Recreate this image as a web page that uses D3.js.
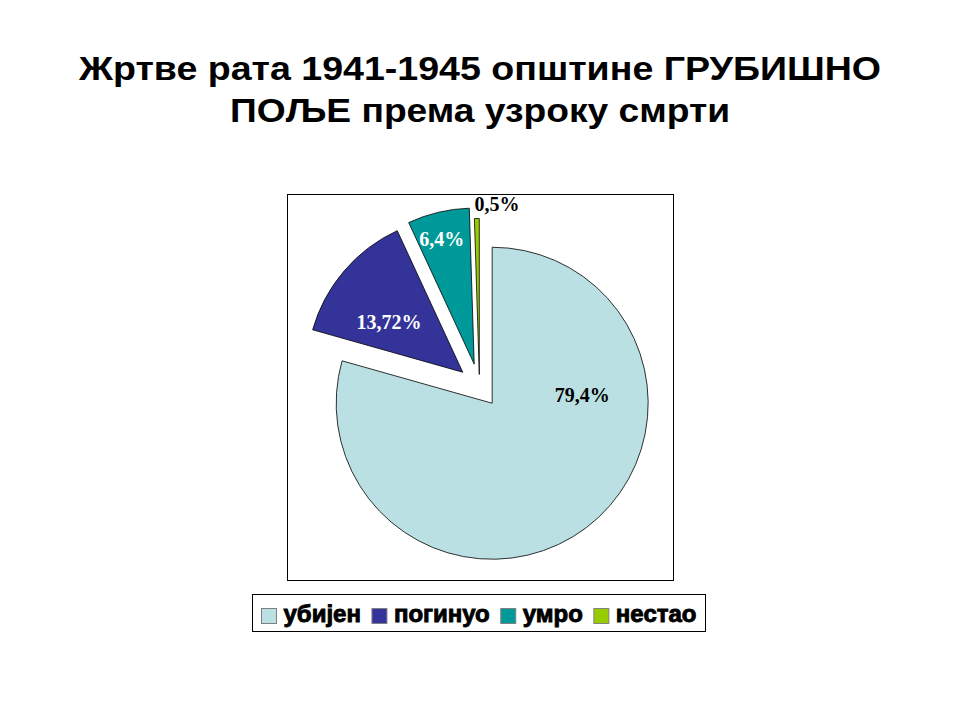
<!DOCTYPE html>
<html>
<head>
<meta charset="utf-8">
<script src="https://cdn.jsdelivr.net/npm/d3@7"></script>
<style>
  body { margin: 0; background: #fff; }
  svg { display: block; }
</style>
</head>
<body>
<svg id="chart" width="960" height="720"></svg>
<script>
// Жртве рата 1941-1945 по узроку смрти -- pie chart

var titleLines = ["Жртве рата 1941-1945 општине ГРУБИШНО", "ПОЉЕ према узроку смрти"];
var categories = ["убијен", "погинуо", "умро", "нестао"];
var values = [79.4, 13.72, 6.4, 0.5];
var valueLabels = ["79,4%", "13,72%", "6,4%", "0,5%"];
var colors = ["#bbe0e3", "#333399", "#009999", "#99cc00"];

///////////////////////////////////////////////////////////////////////////////
// layout

var svg = d3.select("#chart");
var cx = 479.5, cy = 386.5, radius = 156;
var explode = [21, 22, 23, 12];          // how far each slice is pulled out
var labelSpots = [[84.8, 0.58], [304, 0.57], [345.5, 0.83], [5.9, 1.1]];  // deg, fraction of radius
var labelFill = ["#000", "#fff", "#fff", "#000"];

var rad = function (deg) { return deg * Math.PI / 180; };

// Title
svg.append("g").selectAll("text")
  .data(titleLines)
  .enter().append("text")
  .attr("x", 480)
  .attr("y", function (d, i) { return 80 + i * 42; })
  .attr("text-anchor", "middle")
  .attr("textLength", function (d, i) { return i === 0 ? 802 : 500; })
  .attr("lengthAdjust", "spacingAndGlyphs")
  .style("font-family", "'Liberation Sans Narrow', 'Arial Narrow', 'Liberation Sans', sans-serif")
  .style("font-weight", "bold")
  .style("font-size", "34px")
  .text(function (d) { return d; });

// Plot area frame
svg.append("rect")
  .attr("x", 287.5).attr("y", 194.5)
  .attr("width", 386).attr("height", 386)
  .attr("fill", "#fff")
  .attr("stroke", "#000")
  .attr("stroke-width", 1);

///////////////////////////////////////////////////////////////////////////////
// Pie

var pie = d3.pie().sort(null).value(function (d) { return d; });
var arcs = pie(values);
var arc = d3.arc().innerRadius(0).outerRadius(radius);

var offset = function (d, i) {
  var mid = (d.startAngle + d.endAngle) / 2;
  return [cx + explode[i] * Math.sin(mid), cy - explode[i] * Math.cos(mid)];
};

var slices = svg.append("g").selectAll("g")
  .data(arcs)
  .enter().append("g")
  .attr("transform", function (d, i) { return "translate(" + offset(d, i) + ")"; });

slices.append("path")
  .attr("d", arc)
  .attr("fill", function (d, i) { return colors[i]; })
  .attr("stroke", "#000")
  .attr("stroke-width", 0.8)
  .attr("stroke-linejoin", "miter");

slices.append("text")
  .attr("transform", function (d, i) {
    var a = rad(labelSpots[i][0]), r = labelSpots[i][1] * radius;
    var c = d3.arc().innerRadius(r).outerRadius(r).startAngle(a).endAngle(a).centroid();
    return "translate(" + c + ")";
  })
  .attr("text-anchor", "middle")
  .attr("dy", "0.35em")
  .attr("fill", function (d, i) { return labelFill[i]; })
  .style("font-family", "'Liberation Serif', 'Times New Roman', serif")
  .style("font-weight", "bold")
  .style("font-size", "20px")
  .text(function (d, i) { return valueLabels[i]; });

///////////////////////////////////////////////////////////////////////////////
// Legend

var legend = svg.append("g");
var legendBox = legend.append("rect")
  .attr("fill", "#fff")
  .attr("stroke", "#000")
  .attr("stroke-width", 1);

var items = legend.selectAll("g")
  .data(categories)
  .enter().append("g");

items.append("rect")
  .attr("width", 15).attr("height", 15)
  .attr("y", 608.5)
  .attr("fill", function (d, i) { return colors[i]; })
  .attr("stroke", "#808080")
  .attr("stroke-width", 1);

items.append("text")
  .attr("y", 622)
  .style("font-family", "'Liberation Sans', Arial, sans-serif")
  .style("font-weight", "bold")
  .style("font-size", "24px")
  .attr("stroke", "#000")
  .attr("stroke-width", 0.9)
  .text(function (d) { return d; });

var x = 261.5;
items.each(function (d, i) {
  var g = d3.select(this);
  g.select("rect").attr("x", x);
  var t = g.select("text").attr("x", x + 22);
  x += 22 + t.node().getComputedTextLength() + 11;
});

legendBox
  .attr("x", 252.5).attr("y", 594.5)
  .attr("width", x - 252.5 - 2).attr("height", 37);
</script>
</body>
</html>
